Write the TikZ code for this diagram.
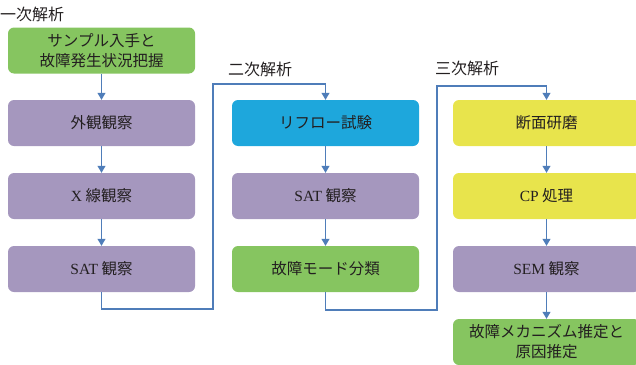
\documentclass[tikz,border=0pt]{standalone}
\usepackage{fontspec}
\setmainfont{Liberation Serif}
\newfontfamily\jp{Noto Sans CJK JP}
\newfontfamily\lat{Liberation Serif}
\usetikzlibrary{arrows.meta}
\definecolor{bgreen}{RGB}{134,197,96}
\definecolor{bpurple}{RGB}{165,151,190}
\definecolor{bblue}{RGB}{30,167,220}
\definecolor{byellow}{RGB}{232,228,76}
\definecolor{conn}{RGB}{79,125,185}
\definecolor{txt}{RGB}{35,31,32}
\tikzset{
  box/.style={rounded corners=6pt, minimum width=187pt, minimum height=46pt, inner sep=0pt, align=center, text=txt, font=\jp\fontsize{15.5}{20}\selectfont},
  gbox/.style={box, fill=bgreen},
  pbox/.style={box, fill=bpurple},
  bbox/.style={box, fill=bblue},
  ybox/.style={box, fill=byellow},
  conline/.style={draw=conn, line width=1.1pt, -{Triangle[length=7pt,width=8pt]}},
  phase/.style={anchor=west, inner sep=0pt, text=txt, font=\jp\fontsize{16}{18}\selectfont}
}
\begin{document}
\begin{tikzpicture}[x=1pt,y=-1pt]
\useasboundingbox (0,0) rectangle (636,364);
\begin{scope}
\clip (0,0) rectangle (636,364);
% column 1
\node[phase] (p1) at (0,14) {一次解析};
\node[gbox] (a1) at (101.5,50.5) {サンプル入手と\\故障発生状況把握};
\node[pbox] (a2) at (101.5,123) {外観観察};
\node[pbox] (a3) at (101.5,196) {{\lat X} 線観察};
\node[pbox] (a4) at (101.5,269) {{\lat SAT} 観察};
% column 2
\node[phase] (p2) at (228,69) {二次解析};
\node[bbox] (b1) at (325.5,123) {リフロー試験};
\node[pbox] (b2) at (325.5,196) {{\lat SAT} 観察};
\node[gbox] (b3) at (325.5,269) {故障モード分類};
% column 3
\node[phase] (p3) at (435,68) {三次解析};
\node[ybox] (c1) at (546.5,123) {断面研磨};
\node[ybox] (c2) at (546.5,196) {{\lat CP} 処理};
\node[pbox] (c3) at (546.5,269) {{\lat SEM} 観察};
\node[gbox] (c4) at (546.5,342) {故障メカニズム推定と\\原因推定};
% connectors
\draw[conline] (a1) -- (a2);
\draw[conline] (a2) -- (a3);
\draw[conline] (a3) -- (a4);
\draw[conline] (b1) -- (b2);
\draw[conline] (b2) -- (b3);
\draw[conline] (c1) -- (c2);
\draw[conline] (c2) -- (c3);
\draw[conline] (c3) -- (c4);
\coordinate (k1) at (213,309);
\coordinate (k2) at (213,84);
\coordinate (k3) at (437,310);
\coordinate (k4) at (437,86);
\draw[conline] (a4.south) |- (k1) -- (k2) -| (b1.north);
\draw[conline] (b3.south) |- (k3) -- (k4) -| (c1.north);
\end{scope}
\end{tikzpicture}
\end{document}
